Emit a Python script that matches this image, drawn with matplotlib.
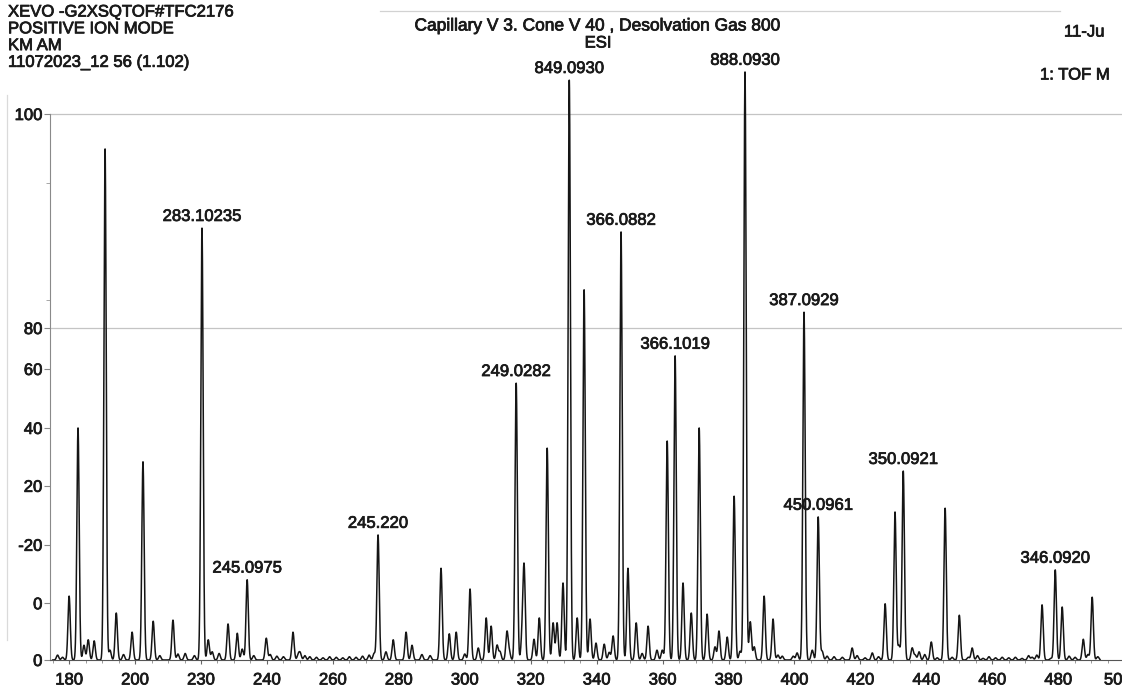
import numpy as np
import matplotlib.pyplot as plt
import matplotlib.patheffects as pe
from matplotlib.transforms import ScaledTranslation
from matplotlib.ticker import FixedLocator, MultipleLocator

plt.rcParams['font.family'] = ['Liberation Sans', 'DejaVu Sans']

# Resolved peaks: position on the m/z axis and relative intensity (%)
peak_mz = [180.0, 182.7, 184.5, 185.8, 187.6, 190.9, 192.4, 194.3, 199.1, 202.4,
           205.5, 211.5, 215.2, 220.3, 222.2, 223.4, 228.2, 231.0, 234.0, 239.8,
           247.9, 250.1, 273.7, 276.1, 278.3, 282.2, 284.0, 292.8, 295.3, 297.4,
           301.6, 304.1, 306.5, 308.0, 309.8, 310.7, 312.8, 315.6, 317.4, 318.0,
           321.0, 322.6, 325.0, 326.8, 328.0, 329.8, 331.7, 334.1, 336.2, 338.0,
           339.8, 342.3, 345.0, 347.4, 349.5, 352.0, 355.6, 358.3, 359.9, 361.4,
           363.8, 366.2, 368.7, 371.1, 373.5, 375.9, 377.1, 379.6, 381.7, 385.0,
           386.6, 387.8, 390.8, 393.5, 396.3, 399.6, 400.8, 402.9, 405.4, 407.2,
           408.4, 409.9, 417.5, 421.4, 423.6, 427.5, 430.5, 431.7, 433.0, 435.7,
           436.6, 437.8, 441.5, 443.3, 445.7, 447.8, 450.0, 452.7, 453.9, 457.2,
           472.1, 475.1, 477.8, 479.1, 481.2, 483.3, 485.1, 487.6, 490.3]
peak_int = [11.7, 42.5, 2.7, 3.7, 3.5, 93.6, 1.8, 8.6, 5.1, 36.3,
            7.1, 7.3, 1.2, 79.1, 3.7, 1.5, 6.6, 4.9, 14.7, 4.0,
            5.1, 1.2, 22.9, 1.5, 3.7, 5.1, 2.7, 16.8, 4.8, 5.1,
            13.0, 2.2, 7.7, 6.2, 2.7, 1.5, 5.1, 50.7, 4.2, 16.7,
            3.8, 7.7, 38.8, 6.8, 6.8, 14.1, 106.2, 7.7, 67.8, 7.5,
            3.1, 2.9, 4.4, 78.4, 16.8, 6.8, 6.2, 1.8, 1.8, 40.1,
            55.7, 14.1, 8.6, 42.5, 8.4, 2.4, 5.3, 4.2, 30.0, 107.7,
            7.0, 2.4, 11.7, 7.5, 0.7, 0.7, 1.3, 63.7, 1.8, 26.2,
            1.6, 0.7, 2.2, 0.4, 1.3, 10.3, 27.1, 2.6, 34.6, 2.2,
            0.9, 1.5, 3.3, 0.4, 27.8, 0.5, 8.2, 0.5, 2.2, 0.3,
            0.5, 10.1, 0.3, 16.5, 9.7, 0.7, 0.5, 3.8, 11.5]

# Low-level baseline features
noise_mz = [176.5, 178.0, 196.5, 207.5, 213.0, 218.0, 225.5, 232.5, 236.0, 241.0,
            243.0, 245.0, 249.5, 251.5, 253.0, 255.0, 257.0, 259.0, 261.0, 263.0,
            265.0, 267.0, 269.0, 271.0, 272.5, 287.0, 289.5, 300.0, 313.5, 343.8,
            353.8, 383.5, 395.0, 412.0, 414.5, 419.0, 425.5, 439.5, 455.5, 459.0,
            461.0, 463.0, 465.0, 467.0, 469.0, 471.0, 473.5, 489.0, 492.0]
noise_int = [0.9, 0.5, 1.0, 0.8, 1.1, 0.8, 1.2, 2.0, 0.8, 1.0,
             0.7, 0.6, 1.0, 0.8, 0.6, 0.5, 0.4, 0.6, 0.5, 0.4,
             0.6, 0.5, 0.7, 0.9, 1.2, 1.0, 0.8, 1.1, 1.5, 1.4,
             1.2, 1.6, 0.9, 0.6, 0.5, 0.8, 0.6, 1.0, 0.8, 0.6,
             0.4, 0.5, 0.4, 0.5, 0.3, 0.8, 0.9, 1.0, 0.6]

# Annotated peaks (index into the peak list) and their printed labels
label_idx = [18, 13, 22, 37, 46, 53, 60, 69, 77, 79, 88, 103]
label_text = ['245.0975', '283.10235', '245.220', '249.0282', '849.0930',
              '366.0882', '366.1019', '888.0930', '387.0929', '450.0961',
              '350.0921', '346.0920']

# Axis tick positions and the labels printed at them
xtick_pos = [180, 200, 220, 240, 260, 280, 300, 320, 340, 360, 380, 400,
             420, 440, 460, 480, 500]
xtick_lab = ['180', '200', '230', '240', '260', '280', '300', '320', '340',
             '360', '380', '400', '420', '440', '460', '480', '50']
ytick_pos = [0, 10.4, 21.1, 31.9, 42.5, 53.3, 60.8, 100]
ytick_lab = ['0', '0', '-20', '20', '40', '60', '80', '100']

INK = '#1a1a1a'
heavy = [pe.withStroke(linewidth=0.55, foreground=INK)]

W, H = 1122, 686
fig = plt.figure(figsize=(W / 100, H / 100), dpi=100)
fig.patch.set_facecolor('white')

# axes placed in pixel terms: spine at x=50, baseline at y=660
x_left, x_right = 174.2, 502.0
px_per_mz = 3.297
ax_w = (x_right - x_left) * px_per_mz
y_top = 115.0
px_per_int = 5.46
ax_h = y_top * px_per_int
ax = fig.add_axes([50 / W, (H - 660) / H, ax_w / W, ax_h / H])
ax.set_xlim(x_left, x_right)
ax.set_ylim(0, y_top)
ax.patch.set_alpha(0)

# profile spectrum built from the centroid list
grid = np.arange(175.0, 492.7, 0.02)
trace = np.zeros_like(grid)
sigma = 0.35
for m, h in zip(peak_mz + noise_mz, peak_int + noise_int):
    trace += h * np.exp(-0.5 * ((grid - m) / sigma) ** 2)
ax.plot(grid, trace, color='#151515', lw=1.1, zorder=3)

# horizontal reference lines
for yv in (100, 60.8):
    ax.axhline(yv, color='#c4c4c4', lw=0.9, zorder=1)

# peak labels
for i, txt in zip(label_idx, label_text):
    ax.annotate(txt, (peak_mz[i], peak_int[i]), xytext=(0, 3),
                textcoords='offset points', ha='center', va='bottom',
                fontsize=12, color=INK, zorder=4, path_effects=heavy)

for s in ('top', 'right'):
    ax.spines[s].set_visible(False)
ax.spines['left'].set_bounds(0, 100)
ax.spines['left'].set_color('#8a8a8a')
ax.spines['left'].set_linewidth(0.8)
ax.spines['bottom'].set_color('#555555')
ax.spines['bottom'].set_linewidth(0.8)

ax.xaxis.set_major_locator(FixedLocator(xtick_pos))
ax.set_xticklabels(xtick_lab)
ax.xaxis.set_minor_locator(MultipleLocator(5))
ax.yaxis.set_major_locator(FixedLocator(ytick_pos))
ax.set_yticklabels(ytick_lab)
ax.yaxis.set_minor_locator(FixedLocator([87.3, 66.0]))
ax.tick_params(axis='x', which='major', length=3, pad=6, labelsize=12,
               color='#666666', labelcolor=INK)
ax.tick_params(axis='x', which='minor', length=2, color='#888888')
ax.tick_params(axis='y', which='major', length=4, pad=1.5, labelsize=12,
               color='#888888', labelcolor=INK)
ax.tick_params(axis='y', which='minor', length=3, color='#999999')
for lab in ax.get_xticklabels() + ax.get_yticklabels():
    lab.set_path_effects(heavy)
# last x label sits at the right page edge
last = ax.get_xticklabels()[-1]
last.set_transform(last.get_transform() + ScaledTranslation(-11 / 100, 0, fig.dpi_scale_trans))

# header block
hdr = dict(fontsize=12, color=INK, va='center', path_effects=heavy)
for k, line in enumerate(['XEVO -G2XSQTOF#TFC2176', 'POSITIVE ION MODE', 'KM AM',
                          '11072023_12 56 (1.102)']):
    fig.text(8 / W, 1 - (12 + 16.8 * k) / H, line, ha='left', **hdr)
fig.text(598 / W, 1 - 26 / H, 'Capillary V 3. Cone V 40 , Desolvation Gas 800',
         ha='center', **dict(hdr, fontsize=12.5))
fig.text(598 / W, 1 - 43 / H, 'ESI', ha='center', **hdr)
fig.text(1064 / W, 1 - 32 / H, '11-Ju', ha='left', **hdr)
fig.text(1040 / W, 1 - 75 / H, '1: TOF M', ha='left', **hdr)

# thin rule under the title area and page edge
fig.add_artist(plt.Line2D([380 / W, 1060 / W], [1 - 11 / H, 1 - 11 / H],
                          color='#d2d2d2', lw=0.9))
fig.add_artist(plt.Line2D([7 / W, 7 / W], [1 - 95 / H, 1 - 640 / H],
                          color='#dadada', lw=0.9))

fig.savefig('out.png', dpi=100)
